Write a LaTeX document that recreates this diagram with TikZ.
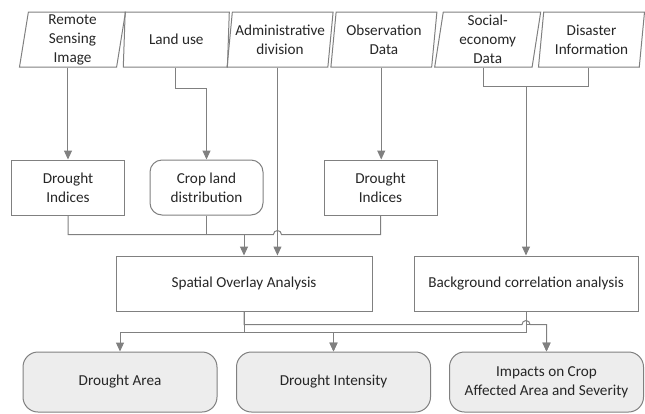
\documentclass[tikz,border=0pt]{standalone}
\usepackage{fontspec}
\setmainfont{Carlito}
\usepackage{tikz}
\usetikzlibrary{positioning}
\usetikzlibrary{calc}
\usetikzlibrary{arrows.meta,shapes.geometric}
\tikzstyle{data} = [trapezium, trapezium left angle=80, trapezium right angle=100, trapezium stretches body, minimum width=106pt, minimum height=55pt, inner xsep=0pt, inner ysep=0pt, draw=gray, line width=1pt, align=center]
\tikzstyle{process} = [rectangle, minimum width=113pt, minimum height=55pt, draw=gray, line width=1pt, align=center]
\tikzstyle{result} = [rectangle, rounded corners=15pt, minimum width=194pt, minimum height=60pt, draw=gray, line width=1pt, fill=gray!14, align=center]
\tikzstyle{line} = [line width=1pt, draw=gray]
\tikzstyle{arrow} = [line width=1pt, draw=gray, -{Triangle[length=9pt,width=8pt]}]

\begin{document}
\begin{tikzpicture}[x=1pt, y=1pt, node distance=103.8pt, font=\fontsize{15.2}{19}\selectfont, text=black!85]
\useasboundingbox (0,0) rectangle (645,-413);
% input data
\node (D1) [data] at (72.5,-39.5) {Remote\\Sensing\\Image};
\node (D2) [data, right of=D1] {Land use};
\node (D3) [data, right of=D2] {Administrative\\division};
\node (D4) [data, right of=D3] {Observation\\Data};
\node (D5) [data, right of=D4] {Social-\\economy\\Data};
\node (D6) [data, right of=D5] {Disaster\\Information};
% intermediate
\node (I1) [process] at (68,-187.5) {Drought\\Indices};
\node (I2) [process, rounded corners=12pt] at (206.5,-187.5) {Crop land\\distribution};
\node (I3) [process] at (380.5,-187.5) {Drought\\Indices};
% analysis
\node (A1) [process, minimum width=256pt] at (244,-283.5) {Spatial Overlay Analysis};
\node (A2) [process, minimum width=224pt] at (526,-283.5) {Background correlation analysis};
% results
\node (R1) [result] at (120,-382) {Drought Area};
\node (R2) [result] at (333.5,-382) {Drought Intensity};
\node (R3) [result] at (546.5,-382) {Impacts on Crop\\Affected Area and Severity};
% connectors, upper part
\draw [arrow] (D1.bottom side) -- (D1.bottom side |- I1.north);
\draw [arrow] (D2.bottom side) -- ++(0,-21) -| (I2.north);
\draw [arrow] (D3.bottom side) -- (D3.bottom side |- A1.north);
\draw [arrow] (D4.bottom side) -- (D4.bottom side |- I3.north);
\coordinate (J2) at ($(A2.north)+(0,169)$);
\draw [line] (D5.bottom side) |- (J2) -| (D6.bottom side);
\draw [arrow] (J2) -- (A2.north);
\coordinate (J1) at ($(A1.north)+(0,21)$);
\draw [line] (I1.south) |- (J1) -- ($(D3.bottom side |- J1)+(-4,0)$) arc (180:0:4) -| (I3.south);
\draw [line] (I2.south) -- (I2.south |- J1);
\draw [arrow] (J1) -- (A1.north);
% connectors, lower part
\coordinate (J3) at ($(A1.south)+(0,-21)$);
\draw [arrow] (A1.south) -- (J3) -| (R1.north);
\draw [arrow] (J3) -| (R2.north);
\draw [arrow] (A1.south) -- ++(0,-13) -- ($(A2.south)+(-4,-13)$) arc (180:0:4) -| (R3.north);
\draw [arrow] (A2.south) -- ++(0,-21) -| (R2.north);
\draw [arrow] (A2.south) -- ++(0,-13) -| (R3.north);
\end{tikzpicture}
\end{document}
